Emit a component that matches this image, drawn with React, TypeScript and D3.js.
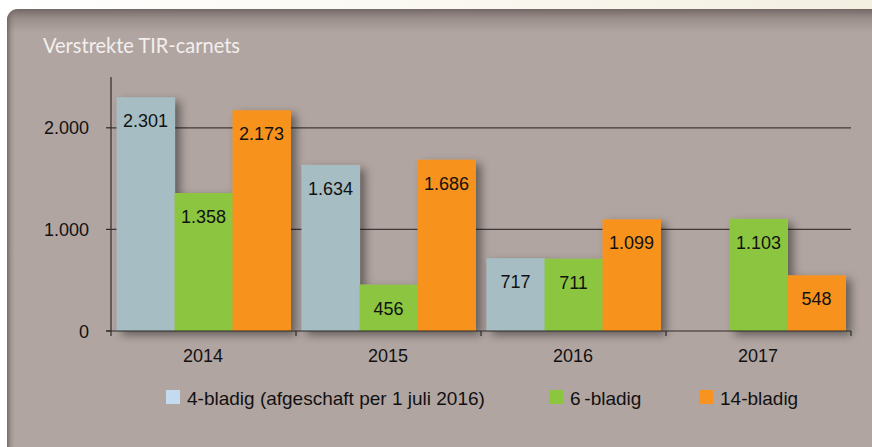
import React from "react";
import * as d3 from "d3";

const years = ["2014", "2015", "2016", "2017"];
const seriesKeys = ["s4", "s6", "s14"];
const seriesNames = ["4-bladig (afgeschaft per 1 juli 2016)", "6\u2009-bladig", "14-bladig"];
const values4 = [2301, 1634, 717, null];
const values6 = [1358, 456, 711, 1103];
const values14 = [2173, 1686, 1099, 548];
const yTicks = [0, 1000, 2000];
const title = "Verstrekte TIR-carnets";

const barColors = ["#a6bdc4", "#8cc63f", "#f7931e"];
const legendColors = ["#c3daef", "#8cc63f", "#f7931e"];

const W = 872;
const H = 447;

export default function App() {
  const loc = d3.formatLocale({ decimal: ",", thousands: ".", grouping: [3], currency: ["€", ""] });
  const fmt = loc.format(",d");

  const x0 = d3.scaleBand<string>().domain(years).range([111, 851]).paddingInner(0.06).paddingOuter(0.03);
  const x1 = d3.scaleBand<string>().domain(seriesKeys).range([0, x0.bandwidth()]);
  const y = d3.scaleLinear().domain([0, 2500]).range([331, 77]);

  const table = [values4, values6, values14];
  const bars: { key: string; year: string; v: number; color: string }[] = [];
  years.forEach((yr, i) => {
    seriesKeys.forEach((k, j) => {
      const v = table[j][i];
      if (v != null) bars.push({ key: k, year: yr, v, color: barColors[j] });
    });
  });

  const step = x0.step();
  const boundaries = years.map((yr) => (x0(yr) as number) - step * 0.03).concat([851]);

  const font = "'Liberation Sans', Arial, sans-serif";
  const legendX = [166, 549, 699];

  return (
    <svg width={W} height={H} style={{ position: "absolute", left: 0, top: 0, display: "block" }}>
      <defs>
        <linearGradient id="topbg" x1="0" x2="1" y1="0" y2="0">
          <stop offset="0" stopColor="#ffffff" />
          <stop offset="0.5" stopColor="#faf8f1" />
          <stop offset="1" stopColor="#f3efe1" />
        </linearGradient>
        <linearGradient id="topsh" x1="0" x2="0" y1="0" y2="1">
          <stop offset="0" stopColor="#5e5351" stopOpacity="0.75" />
          <stop offset="0.4" stopColor="#6e6361" stopOpacity="0.35" />
          <stop offset="1" stopColor="#7a6f6c" stopOpacity="0" />
        </linearGradient>
        <linearGradient id="leftsh" x1="0" x2="1" y1="0" y2="0">
          <stop offset="0" stopColor="#5e5351" stopOpacity="0.7" />
          <stop offset="0.5" stopColor="#6e6361" stopOpacity="0.25" />
          <stop offset="1" stopColor="#7a6f6c" stopOpacity="0" />
        </linearGradient>
        <clipPath id="panelclip">
          <rect x={7} y={9} width={900} height={470} rx={11} />
        </clipPath>
        <filter id="barsh" x="-20%" y="-20%" width="150%" height="150%">
          <feDropShadow dx="5" dy="4" stdDeviation="5" floodColor="#000" floodOpacity="0.45" />
        </filter>
      </defs>
      <rect x={0} y={0} width={W} height={H} fill="#ffffff" />
      <rect x={0} y={0} width={W} height={14} fill="url(#topbg)" />
      <g clipPath="url(#panelclip)">
        <rect x={7} y={9} width={900} height={470} fill="#b1a5a1" />
        <rect x={7} y={9} width={900} height={24} fill="url(#topsh)" />
        <rect x={7} y={9} width={8} height={470} fill="url(#leftsh)" />
      </g>

      <text
        x={43}
        y={53}
        fill="#f3efed"
        fontFamily="Lato, 'Open Sans', sans-serif"
        fontSize={20.5}
        textLength={197}
        lengthAdjust="spacingAndGlyphs"
      >
        {title}
      </text>

      {/* gridlines */}
      {yTicks.filter((t) => t > 0).map((t) => (
        <line key={t} x1={111} x2={851} y1={y(t)} y2={y(t)} stroke="#3f3a39" strokeWidth={1.2} />
      ))}

      {/* bars */}
      <g filter="url(#barsh)">
        {bars.map((b) => (
          <rect
            key={b.key + b.year}
            x={(x0(b.year) as number) + (x1(b.key) as number)}
            y={y(b.v)}
            width={x1.bandwidth() + 0.5}
            height={y(0) - y(b.v)}
            fill={b.color}
          />
        ))}
      </g>
      {bars.map((b) => (
        <text
          key={"l" + b.key + b.year}
          x={(x0(b.year) as number) + (x1(b.key) as number) + x1.bandwidth() / 2}
          y={y(b.v) + 30}
          textAnchor="middle"
          fontFamily={font}
          fontSize={18}
          fill="#111"
        >
          {fmt(b.v)}
        </text>
      ))}

      {/* y axis */}
      <line x1={111} x2={111} y1={77} y2={331} stroke="#2e2a29" strokeWidth={1.2} />
      {yTicks.map((t) => (
        <g key={"yt" + t}>
          <line x1={106} x2={111} y1={y(t)} y2={y(t)} stroke="#2e2a29" strokeWidth={1.2} />
          <text x={89} y={y(t) + 6.5} textAnchor="end" fontFamily={font} fontSize={18} fill="#111">
            {fmt(t)}
          </text>
        </g>
      ))}

      {/* x axis */}
      <line x1={106} x2={851} y1={331} y2={331} stroke="#2e2a29" strokeWidth={1.2} />
      {boundaries.map((bx, i) => (
        <line key={"xt" + i} x1={bx} x2={bx} y1={331} y2={336} stroke="#2e2a29" strokeWidth={1.2} />
      ))}
      {years.map((yr) => (
        <text
          key={"xl" + yr}
          x={(x0(yr) as number) + x0.bandwidth() / 2 - 0.5}
          y={362}
          textAnchor="middle"
          fontFamily={font}
          fontSize={18}
          fill="#111"
        >
          {yr}
        </text>
      ))}

      {/* legend */}
      {seriesNames.map((n, i) => (
        <g key={"lg" + i}>
          <rect x={legendX[i]} y={390} width={14} height={14} fill={legendColors[i]} />
          <text x={legendX[i] + 21} y={405} fontFamily={font} fontSize={19} fill="#111">
            {n}
          </text>
        </g>
      ))}
    </svg>
  );
}
